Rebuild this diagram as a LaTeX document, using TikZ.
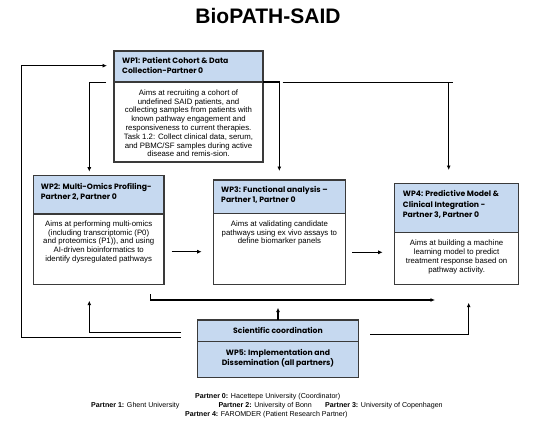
\documentclass[tikz,border=0pt]{standalone}
\usepackage{fontspec}
\setmainfont{Liberation Sans}
\newfontfamily\hdrfont{Poppins}
\usetikzlibrary{arrows.meta}
\definecolor{hdrblue}{HTML}{C6D9F0}
\definecolor{boxline}{HTML}{3A3A3A}
\begin{document}
\begin{tikzpicture}[x=1pt,y=-1pt,
  boxbase/.style={draw=boxline, line width=1.1pt, inner sep=0pt, outer sep=0pt, anchor=north west},
  hdr/.style={boxbase, fill=hdrblue},
  bodybox/.style={boxbase, fill=white},
  hfont/.style={font=\hdrfont\bfseries\fontsize{7.7}{10.3}\selectfont},
  htext/.style={hfont, inner sep=0pt, anchor=north west, align=left},
  ctext/.style={hfont, inner sep=0pt, anchor=north, align=center},
  btext/.style={inner sep=0pt, anchor=north, align=center, font=\fontsize{7.8}{8.8}\selectfont},
  legend/.style={inner sep=0pt, font=\fontsize{7.1}{8.5}\selectfont},
  conn/.style={draw=black, line width=1.2pt},
  arr/.style={conn, -{Latex[length=4.5pt,width=4pt]}}
]
\useasboundingbox (0,0) rectangle (536,431);

% title
\node[inner sep=0pt, anchor=base, font=\bfseries\fontsize{21}{24}\selectfont] (title) at (268,23.4) {BioPATH-SAID};

% WP1
\node[hdr, minimum width=149pt, minimum height=31pt] (h1) at (114,51) {};
\node[bodybox, minimum width=149pt, minimum height=80pt] (b1) at (114,82) {};
\node[htext] (h1t) at (122,57.2) {WP1: Patient Cohort \& Data\\Collection-Partner 0};
\node[btext] (b1t) at (188.5,89.4) {Aims at recruiting a cohort of\\undefined SAID patients, and\\collecting samples from patients with\\known pathway engagement and\\responsiveness to current therapies.\\Task 1.2: Collect clinical data, serum,\\and PBMC/SF samples during active\\disease and remis-sion.};

% WP2
\node[hdr, minimum width=130.7pt, minimum height=38.3pt] (h2) at (33.3,175.7) {};
\node[bodybox, minimum width=130.7pt, minimum height=70.3pt] (b2) at (33.3,214) {};
\node[htext] (h2t) at (40.7,182.9) {WP2: Multi-Omics Profiling-\\Partner 2, Partner 0};
\node[btext] (b2t) at (98.7,220.4) {Aims at performing multi-omics\\(including transcriptomic (P0)\\and proteomics (P1)), and using\\AI-driven bioinformatics to\\identify dysregulated pathways};

% WP3
\node[hdr, minimum width=132.2pt, minimum height=33.5pt] (h3) at (213.3,180) {};
\node[bodybox, minimum width=132.2pt, minimum height=70.8pt] (b3) at (213.3,213.5) {};
\node[htext] (h3t) at (221,186.2) {WP3: Functional analysis –\\Partner 1, Partner 0};
\node[btext] (b3t) at (279.4,220.4) {Aims at validating candidate\\pathways using ex vivo assays to\\define biomarker panels};

% WP4
\node[hdr, minimum width=123.8pt, minimum height=49.4pt] (h4) at (394.7,183.3) {};
\node[bodybox, minimum width=123.8pt, minimum height=51.6pt] (b4) at (394.7,232.7) {};
\node[htext] (h4t) at (402.7,190.5) {WP4: Predictive Model \&\\Clinical Integration -\\Partner 3, Partner 0};
\node[btext] (b4t) at (456.6,239.8) {Aims at building a machine\\learning model to predict\\treatment response based on\\pathway activity.};

% Scientific coordination and WP5
\node[hdr, hfont, minimum width=160.6pt, minimum height=21.5pt] (sc) at (197.7,320) {Scientific coordination};
\node[hdr, minimum width=160.6pt, minimum height=36.2pt] (w5) at (197.7,341.5) {};
\node[ctext] (w5t) at (278,348.9) {WP5: Implementation and\\Dissemination (all partners)};

% connector end points
\coordinate (fbS) at (181,337.7);
\coordinate (fbX) at (21.7,337.7);
\coordinate (fbE) at (107,65.7);
\coordinate (w12S) at (106,82.7);
\coordinate (w12E) at (89.3,171.7);
\coordinate (w13E) at (279.3,171);
\coordinate (w14S) at (282.7,82.7);
\coordinate (w14K) at (452.7,82.7);
\coordinate (w14T) at (448.7,82.7);
\coordinate (w14E) at (448.7,170);
\coordinate (w23S) at (171.7,251.7);
\coordinate (w23E) at (201.7,251.7);
\coordinate (w34S) at (352,252.3);
\coordinate (w34E) at (382.7,252.3);
\coordinate (lnS) at (150.7,294.3);
\coordinate (lnE) at (435,300);
\coordinate (scL) at (181,332.7);
\coordinate (scLE) at (89.3,300.7);
\coordinate (scUE) at (278,307.7);
\coordinate (scR) at (370,334.3);
\coordinate (scRE) at (468.7,302.7);

% connectors
\draw[arr] (fbS) -- (fbX) |- (fbE);
\draw[arr] (w12S) -| (w12E);
\draw[arr] (b1.north east) -| (w13E);
\draw[conn] (w14S) -- (w14K);
\draw[arr] (w14T) -- (w14E);
\draw[arr] (w23S) -- (w23E);
\draw[arr] (w34S) -- (w34E);
\draw[arr] (lnS) |- (lnE);
\draw[arr] (scL) -| (scLE);
\draw[arr] (sc.north) -- (scUE);
\draw[arr] (scR) -| (scRE);

% legend
\node[legend, anchor=mid] (p0) at (267.7,395.7) {\textbf{Partner 0:} Hacettepe University (Coordinator)};
\node[legend, anchor=mid west] (p1) at (91,404.7) {\textbf{Partner 1:} Ghent University};
\node[legend, anchor=mid west] (p2) at (218.3,404.7) {\textbf{Partner 2:} University of Bonn};
\node[legend, anchor=mid west] (p3) at (325,404.7) {\textbf{Partner 3:} University of Copenhagen};
\node[legend, anchor=mid] (p4) at (266.4,413.7) {\textbf{Partner 4:} FAROMDER (Patient Research Partner)};
\end{tikzpicture}
\end{document}
